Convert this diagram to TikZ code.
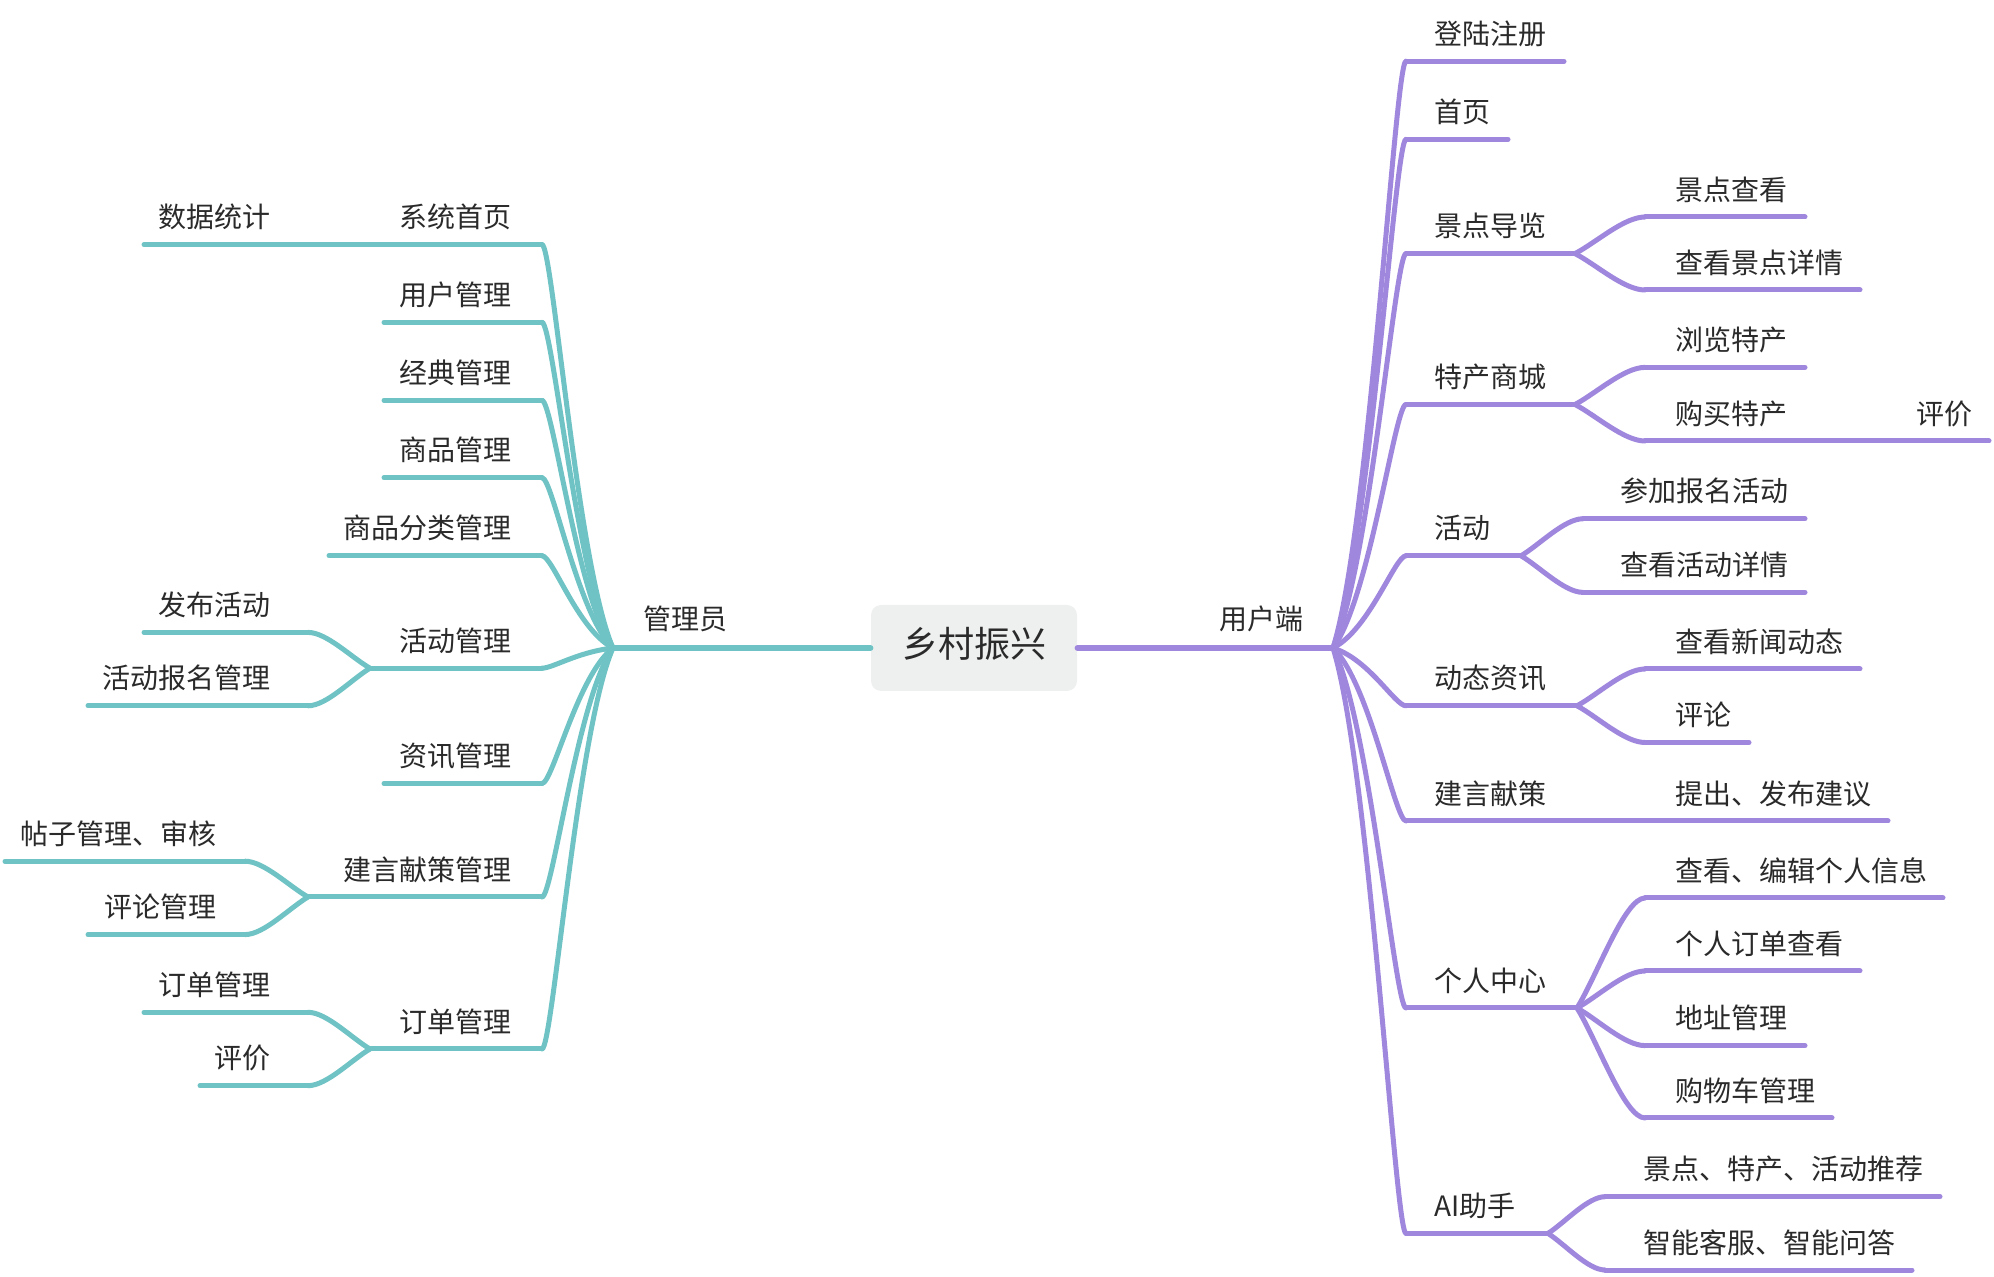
\documentclass[tikz,border=0pt]{standalone}
\usepackage{fontspec}
\setmainfont{Noto Sans CJK SC}
\usetikzlibrary{calc}
\definecolor{tealc}{HTML}{6FC3C4}
\definecolor{purc}{HTML}{A087DE}
\definecolor{txtc}{HTML}{2A2A2A}
\definecolor{rootfill}{HTML}{EEF0EF}
\tikzset{
  tl/.style={draw=tealc,line width=2.5pt,line cap=round},
  pl/.style={draw=purc,line width=2.5pt,line cap=round},
  lab/.style={inner sep=0pt,font=\fontsize{14pt}{16pt}\selectfont,text=txtc,text height=0.88em,text depth=0.12em},
  rootbox/.style={fill=rootfill,rounded corners=5pt,minimum width=103pt,minimum height=43pt,inner sep=0pt,font=\fontsize{18pt}{20pt}\selectfont,text=txtc,text height=1.0em,text depth=0em}
}
% style, from, to, a, b, c
\newcommand\bcurve[6]{\draw[#1] let \p1=(#2), \p2=(#3) in (\p1) .. controls ({\x1+#4*(\x2-\x1)},{\y1+#5*(\y2-\y1)}) and ({\x2-#6*(\x2-\x1)},{\y2}) .. (\p2);}
\newcommand\fan[3]{\bcurve{#1}{#2}{#3}{0.5}{0.2}{0.15}}
\newcommand\sub[3]{\bcurve{#1}{#2}{#3}{0.3}{0.3}{0.3}}
% style, name, anchor, text x, line y, inner x, outer x, text
\newcommand\topic[8]{%
  \coordinate (#2-i) at (#6,#5);
  \coordinate (#2-o) at (#7,#5);
  \draw[#1] (#2-i) -- (#2-o);
  \node[lab,anchor=#3] (#2) at (#4,#5-24.5) {#8};
}
\begin{document}
\begin{tikzpicture}[x=0.5pt,y=-0.5pt]
\useasboundingbox (0,0) rectangle (1994,1277);
\coordinate (hubL) at (613,648);
\coordinate (hubR) at (1333,648);
\node[rootbox] (root) at (974,648) {乡村振兴};
\draw[tl,line width=2.8pt] (root.west |- hubL) -- (hubL);
\draw[pl,line width=2.8pt] (root.east |- hubR) -- (hubR);
\node[lab,anchor=west] (gly) at (643,622) {管理员};
\node[lab,anchor=east] (yhd) at (1304,622) {用户端};
% left side
\topic{tl}{xtsy}{east}{512}{244.6}{542}{370}{系统首页}
\topic{tl}{sjtj}{east}{271}{244.6}{308}{144}{数据统计}
\topic{tl}{yhgl}{east}{512}{322.3}{542}{384}{用户管理}
\topic{tl}{jdgl}{east}{512}{400.4}{542}{384}{经典管理}
\topic{tl}{spgl}{east}{512}{477.7}{542}{384}{商品管理}
\topic{tl}{spfl}{east}{512}{555.8}{542}{329}{商品分类管理}
\topic{tl}{hdgl}{east}{512}{668.2}{542}{370}{活动管理}
\topic{tl}{fbhd}{east}{271}{632.4}{308}{144}{发布活动}
\topic{tl}{hdbm}{east}{271}{705.8}{308}{88}{活动报名管理}
\topic{tl}{zxgl}{east}{512}{783.5}{542}{384}{资讯管理}
\topic{tl}{jyxc}{east}{512}{897}{542}{308}{建言献策管理}
\topic{tl}{tzgl}{east}{217}{861.2}{245}{5}{帖子管理、审核}
\topic{tl}{plgl}{east}{217}{934.6}{245}{88}{评论管理}
\topic{tl}{ddgl}{east}{512}{1049}{542}{370}{订单管理}
\topic{tl}{ddgla}{east}{271}{1012.3}{308}{144}{订单管理}
\topic{tl}{pja}{east}{271}{1085.7}{308}{200}{评价}
\foreach \q in {xtsy,yhgl,jdgl,spgl,spfl,hdgl,zxgl,jyxc,ddgl}{\fan{tl}{hubL}{\q-i}}
\sub{tl}{xtsy-o}{sjtj-i}
\sub{tl}{hdgl-o}{fbhd-i}
\sub{tl}{hdgl-o}{hdbm-i}
\sub{tl}{jyxc-o}{tzgl-i}
\sub{tl}{jyxc-o}{plgl-i}
\sub{tl}{ddgl-o}{ddgla-i}
\sub{tl}{ddgl-o}{pja-i}
% right side
\topic{pl}{dlzc}{west}{1434}{61.2}{1406}{1564}{登陆注册}
\topic{pl}{sy}{west}{1434}{139.3}{1406}{1508}{首页}
\topic{pl}{jddl}{west}{1434}{253.6}{1406}{1575}{景点导览}
\topic{pl}{jdck}{west}{1675}{217}{1645}{1805}{景点查看}
\topic{pl}{ckjd}{west}{1675}{290}{1645}{1860}{查看景点详情}
\topic{pl}{tcsc}{west}{1434}{404.5}{1406}{1575}{特产商城}
\topic{pl}{lltc}{west}{1675}{367.4}{1645}{1805}{浏览特产}
\topic{pl}{gmtc}{west}{1675}{441}{1645}{1805}{购买特产}
\topic{pl}{pjb}{west}{1916}{441}{1876}{1989}{评价}
\topic{pl}{hd}{west}{1434}{555.8}{1406}{1521}{活动}
\topic{pl}{cjbm}{west}{1620}{518.75}{1583}{1805}{参加报名活动}
\topic{pl}{ckhd}{west}{1620}{592.4}{1583}{1805}{查看活动详情}
\topic{pl}{dtzx}{west}{1434}{705.8}{1406}{1577}{动态资讯}
\topic{pl}{ckxw}{west}{1675}{669}{1645}{1860}{查看新闻动态}
\topic{pl}{pinglun}{west}{1675}{742.5}{1645}{1749}{评论}
\topic{pl}{jyxcb}{west}{1434}{821}{1406}{1577}{建言献策}
\topic{pl}{tcfb}{west}{1675}{821}{1645}{1888}{提出、发布建议}
\topic{pl}{grzx}{west}{1434}{1008}{1406}{1577}{个人中心}
\topic{pl}{ckbj}{west}{1675}{898}{1645}{1943}{查看、编辑个人信息}
\topic{pl}{grdd}{west}{1675}{971}{1645}{1860}{个人订单查看}
\topic{pl}{dzgl}{west}{1675}{1045.6}{1645}{1805}{地址管理}
\topic{pl}{gwc}{west}{1675}{1118}{1645}{1832}{购物车管理}
\topic{pl}{ai}{west}{1434}{1233.4}{1406}{1548}{AI助手}
\topic{pl}{tj}{west}{1643}{1196.7}{1605}{1940}{景点、特产、活动推荐}
\topic{pl}{zn}{west}{1643}{1270}{1605}{1912}{智能客服、智能问答}
\foreach \q in {dlzc,sy,jddl,tcsc,hd,dtzx,jyxcb,grzx,ai}{\fan{pl}{hubR}{\q-i}}
\sub{pl}{jddl-o}{jdck-i}
\sub{pl}{jddl-o}{ckjd-i}
\sub{pl}{tcsc-o}{lltc-i}
\sub{pl}{tcsc-o}{gmtc-i}
\sub{pl}{gmtc-o}{pjb-i}
\sub{pl}{hd-o}{cjbm-i}
\sub{pl}{hd-o}{ckhd-i}
\sub{pl}{dtzx-o}{ckxw-i}
\sub{pl}{dtzx-o}{pinglun-i}
\sub{pl}{jyxcb-o}{tcfb-i}
\sub{pl}{grzx-o}{ckbj-i}
\sub{pl}{grzx-o}{grdd-i}
\sub{pl}{grzx-o}{dzgl-i}
\sub{pl}{grzx-o}{gwc-i}
\sub{pl}{ai-o}{tj-i}
\sub{pl}{ai-o}{zn-i}
\end{tikzpicture}
\end{document}
